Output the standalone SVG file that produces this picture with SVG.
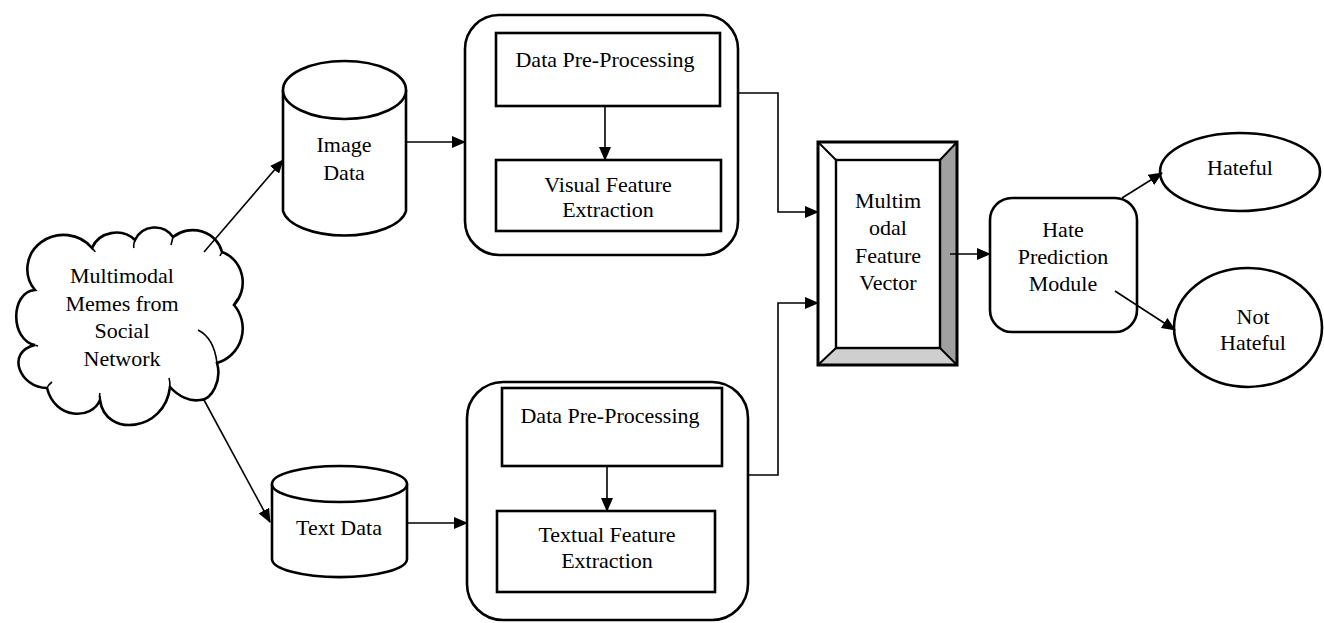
<svg xmlns="http://www.w3.org/2000/svg" width="1324" height="623" viewBox="0 0 1324 623">
<style>
.s{fill:#fff;stroke:#000;stroke-width:2.6}
.t{font-family:"Liberation Serif","Times New Roman",serif;font-size:22px;fill:#000;text-anchor:middle}
.c{fill:none;stroke:#000;stroke-width:1.6}
</style>
<defs>
<marker id="a" markerWidth="14" markerHeight="12" refX="13" refY="6" orient="auto" markerUnits="userSpaceOnUse">
<path d="M0,0 L14,6 L0,12 z" fill="#000"/>
</marker>
</defs>
<rect width="1324" height="623" fill="#fff"/>

<g id="cloud">
<path class="s" d="M35,290 A36,34 0 0 1 92,248 A26,24 0 0 1 135,240 A22,22 0 0 1 173,237 A30,28 0 0 1 222,252 A30,32 0 0 1 234,305 A36,36 0 0 1 217,363 C222,380 212,400 200,400 C190,402 178,396 170,387 C165,432 105,438 100,400 C92,420 55,420 47,388 C20,388 5,352 35,345 C10,340 10,292 35,290 Z"/>
<path class="c" stroke-width="2.6" d="M92,248 Q95,251 95,252 M135,240 Q133,245 134,248 M173,237 Q172,241 171,245 M222,252 Q221,254 220,256 M234,305 Q235,302 238,298 M198,330 Q214,338 217,363 M170,387 Q170,381 169,378 M100,400 Q99,396 100,393 M47,388 Q48,385 52,382 M35,345 Q34,345 38,346"/>
<text class="t" x="122" y="283">Multimodal</text>
<text class="t" x="122" y="311">Memes from</text>
<text class="t" x="122" y="338">Social</text>
<text class="t" x="122" y="366">Network</text>
</g>

<g id="image-data">
<path class="s" d="M283,90 L283,211 A62,28 0 0 0 406,211 L406,90"/>
<ellipse class="s" cx="344.5" cy="90" rx="61.5" ry="29"/>
<text class="t" x="344" y="152">Image</text>
<text class="t" x="344" y="180">Data</text>
</g>

<g id="text-data">
<path class="s" d="M272,484 L272,559 A67,18 0 0 0 407,559 L407,484"/>
<ellipse class="s" cx="339.5" cy="484" rx="67.5" ry="18"/>
<text class="t" x="339" y="535">Text Data</text>
</g>

<g id="visual-block">
<rect class="s" x="465" y="15" width="273" height="240" rx="34"/>
</g>
<g id="visual-preprocess">
<rect class="s" x="496" y="33" width="224" height="73"/>
<text class="t" x="605" y="67">Data Pre-Processing</text>
</g>
<g id="visual-feature">
<rect class="s" x="496" y="160" width="225" height="71"/>
<text class="t" x="608" y="192">Visual Feature</text>
<text class="t" x="608" y="217">Extraction</text>
</g>

<g id="text-block">
<rect class="s" x="467" y="382" width="281" height="238" rx="36"/>
</g>
<g id="text-preprocess">
<rect class="s" x="502" y="388" width="220" height="78"/>
<text class="t" x="610" y="423">Data Pre-Processing</text>
</g>
<g id="textual-feature">
<rect class="s" x="497" y="511" width="218" height="81"/>
<text class="t" x="607" y="542">Textual Feature</text>
<text class="t" x="607" y="568">Extraction</text>
</g>

<g id="feature-vector">
<rect x="818" y="142" width="139" height="223" fill="#fff"/>
<polygon points="957,142 957,365 940,348 940,160" fill="#a0a0a0"/>
<polygon points="818,365 957,365 940,348 836,348" fill="#cfcfcf"/>
<g fill="none" stroke="#000" stroke-width="2">
<line x1="818" y1="142" x2="836" y2="160"/>
<line x1="957" y1="142" x2="940" y2="160"/>
<line x1="818" y1="365" x2="836" y2="348"/>
<line x1="957" y1="365" x2="940" y2="348"/>
</g>
<rect x="836" y="160" width="104" height="188" fill="#fff" stroke="#000" stroke-width="2.4"/>
<rect x="818" y="142" width="139" height="223" fill="none" stroke="#000" stroke-width="3"/>
<text class="t" x="888" y="208">Multim</text>
<text class="t" x="888" y="235">odal</text>
<text class="t" x="888" y="263">Feature</text>
<text class="t" x="888" y="290">Vector</text>
</g>

<g id="hate-module">
<rect class="s" x="990" y="198" width="147" height="134" rx="22"/>
<text class="t" x="1063" y="237">Hate</text>
<text class="t" x="1063" y="264">Prediction</text>
<text class="t" x="1063" y="291">Module</text>
</g>

<g id="hateful">
<ellipse class="s" cx="1240" cy="172" rx="80" ry="39"/>
<text class="t" x="1240" y="175">Hateful</text>
</g>

<g id="not-hateful">
<ellipse class="s" cx="1248" cy="327.5" rx="74" ry="59.5"/>
<text class="t" x="1253" y="324">Not</text>
<text class="t" x="1253" y="350">Hateful</text>
</g>

<g id="connectors" class="c">
<line x1="204" y1="252" x2="283" y2="160" marker-end="url(#a)"/>
<line x1="204" y1="400" x2="270" y2="522" marker-end="url(#a)"/>
<line x1="406" y1="142" x2="465" y2="142" marker-end="url(#a)"/>
<line x1="407" y1="523" x2="467" y2="523" marker-end="url(#a)"/>
<line x1="605" y1="106" x2="605" y2="160" marker-end="url(#a)"/>
<line x1="607" y1="466" x2="607" y2="511" marker-end="url(#a)"/>
<polyline points="738,93 778,93 778,212 818,212" marker-end="url(#a)"/>
<polyline points="748,475 778,475 778,303 818,303" marker-end="url(#a)"/>
<line x1="950" y1="254" x2="990" y2="254" marker-end="url(#a)"/>
<line x1="1122" y1="198" x2="1162" y2="173" marker-end="url(#a)"/>
<line x1="1115" y1="291" x2="1175" y2="330" marker-end="url(#a)"/>
</g>
</svg>
